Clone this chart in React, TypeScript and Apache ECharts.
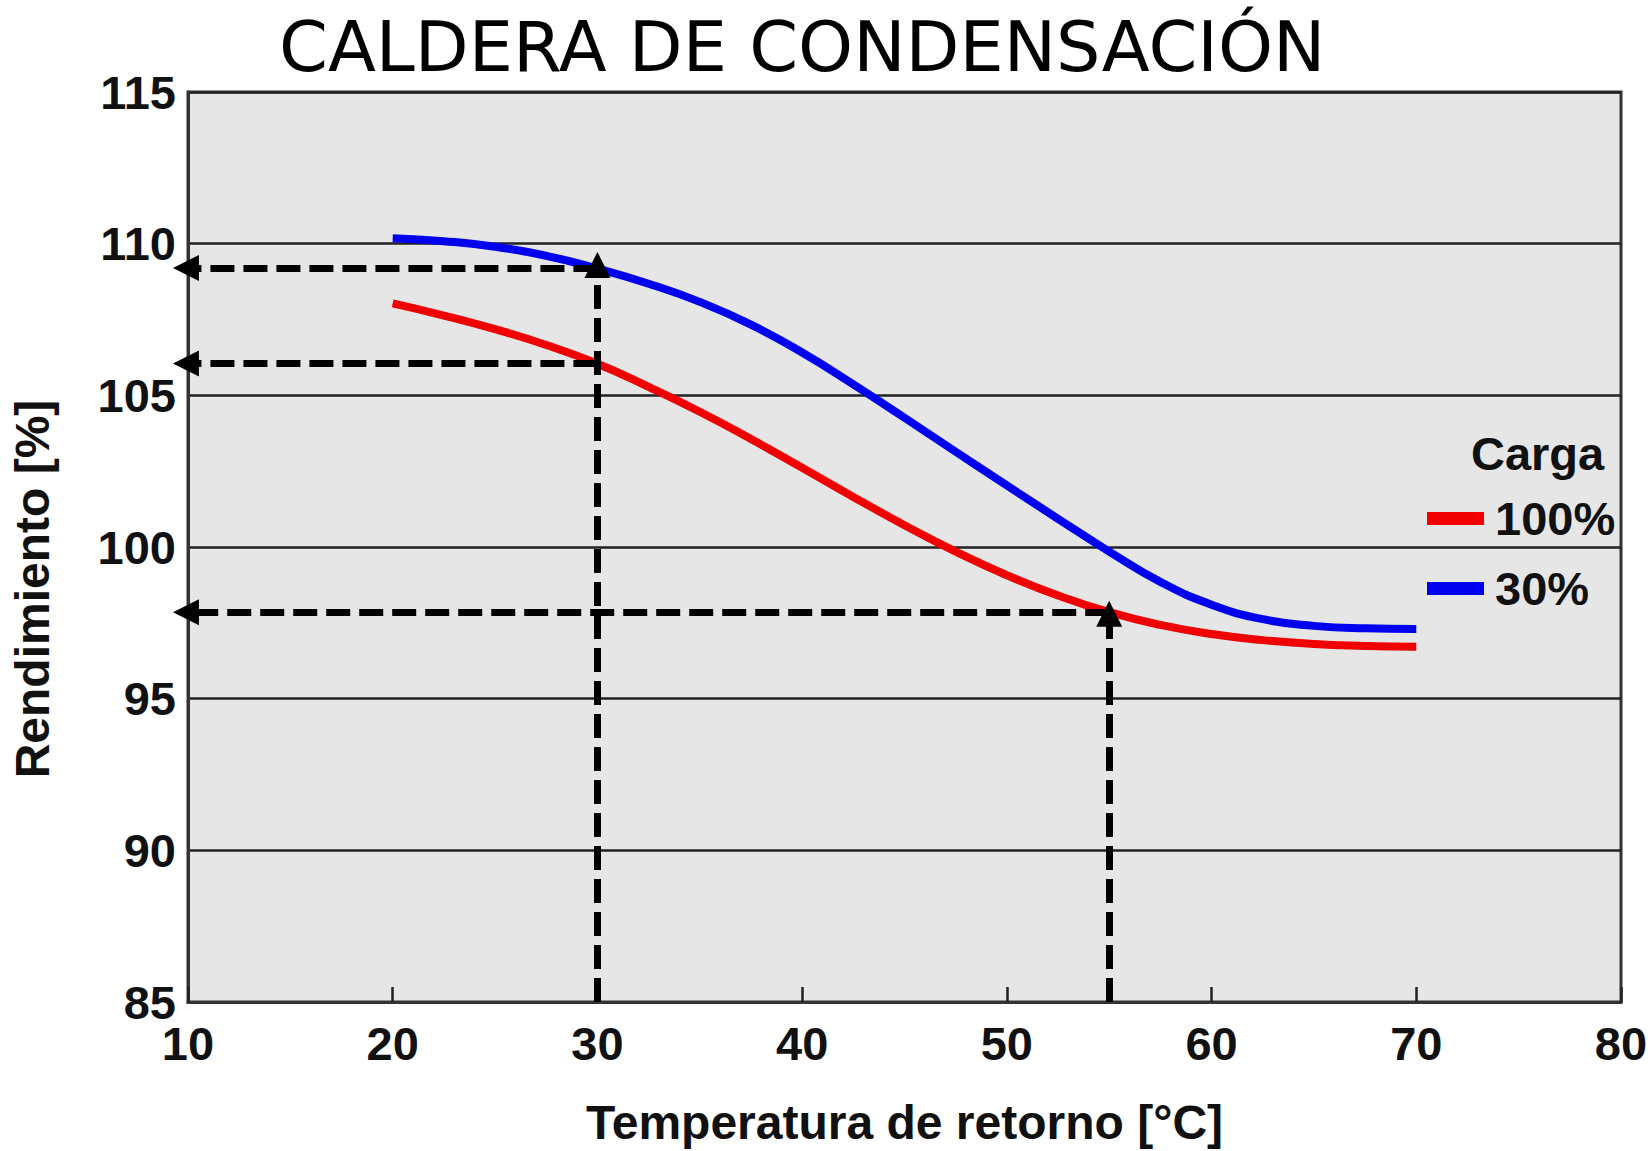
import React, { useEffect, useRef } from "react";
import * as echarts from "echarts";

// Chart text
const chartTitle = "CALDERA DE CONDENSACIÓN";
const xAxisName = "Temperatura de retorno [°C]";
const yAxisName = "Rendimiento [%]";
const legendTitle = "Carga";
const seriesNames = ["100%", "30%"];

// Axes
const xMin = 10;
const xMax = 80;
const xStep = 10;
const yMin = 85;
const yMax = 115;
const yStep = 5;

// Return temperature samples [°C]
const temps = [20, 22.5, 25, 27.5, 30, 32.5, 35, 37.5, 40, 42.5, 45, 47.5, 50, 52.5, 55, 57.5, 60, 62.5, 65, 67.5, 70];

// Efficiency at 100 % load [%]
const load100 = [108.03, 107.63, 107.18, 106.66, 106.04, 105.28, 104.46, 103.56, 102.61, 101.65, 100.72, 99.85, 99.07, 98.4, 97.85, 97.43, 97.13, 96.93, 96.8, 96.74, 96.71];

// Efficiency at 30 % load [%]
const load30 = [110.18, 110.08, 109.9, 109.6, 109.18, 108.68, 108.08, 107.33, 106.41, 105.36, 104.26, 103.14, 102.03, 100.93, 99.85, 98.85, 98.1, 97.62, 97.4, 97.32, 97.3];

// Dashed reading guides: [from, to] in data units (arrow at "to")
const guideSegments: number[][][] = [
  [[30, 85], [30, 109.3]],
  [[30, 109.2], [9.9, 109.2]],
  [[30, 106.05], [9.9, 106.05]],
  [[55, 85], [55, 97.8]],
  [[55, 97.85], [9.9, 97.85]],
];

const seriesColors = ["#f00000", "#0000f0"];

export default function App() {
  const ref = useRef<HTMLDivElement>(null);

  useEffect(() => {
    document.body.style.margin = "0";
    if (!ref.current) return;
    const chart = echarts.init(ref.current, null, { renderer: "svg" });
    const font = "Liberation Sans";
    const toPairs = (vals: number[]) => temps.map((t, i) => [t, vals[i]]);

    chart.setOption({
      animation: false,
      backgroundColor: "#ffffff",
      title: {
        text: chartTitle,
        left: 274,
        top: 7,
        textStyle: {
          fontFamily: "DejaVu Sans",
          fontWeight: "normal",
          fontSize: 70,
          color: "#000",
        },
      },
      grid: {
        left: 187,
        right: 31,
        top: 92,
        bottom: 149,
        show: true,
        backgroundColor: "#e6e6e6",
        borderColor: "#333",
        borderWidth: 3,
      },
      legend: {
        data: seriesNames,
        orient: "vertical",
        left: 1427,
        top: 495,
        itemWidth: 57,
        itemHeight: 13,
        itemGap: 23,
        icon: "rect",
        padding: 0,
        textStyle: {
          fontFamily: font,
          fontWeight: "bold",
          fontSize: 47,
          color: "#111",
          padding: [0, 0, 0, 6],
        },
      },
      graphic: [
        {
          type: "text",
          left: 1471,
          top: 430,
          style: {
            text: legendTitle,
            font: `bold 47px "${font}"`,
            fill: "#111",
          },
        },
      ],
      xAxis: {
        type: "value",
        min: xMin,
        max: xMax,
        interval: xStep,
        name: xAxisName,
        nameLocation: "middle",
        nameGap: 96,
        nameTextStyle: {
          fontFamily: font,
          fontWeight: "bold",
          fontSize: 48,
          color: "#111",
        },
        axisLine: { show: true, lineStyle: { color: "#333", width: 3 } },
        axisTick: { show: true, inside: true, length: 15, lineStyle: { color: "#222", width: 2.5 } },
        axisLabel: {
          margin: 18,
          fontFamily: font,
          fontWeight: "bold",
          fontSize: 47,
          color: "#111",
        },
        splitLine: { show: false },
      },
      yAxis: {
        type: "value",
        min: yMin,
        max: yMax,
        interval: yStep,
        name: yAxisName,
        nameLocation: "middle",
        nameRotate: 90,
        nameGap: 132,
        nameTextStyle: {
          fontFamily: font,
          fontWeight: "bold",
          fontSize: 48,
          color: "#111",
          padding: [0, 84, 0, 0],
        },
        axisLine: { show: true, lineStyle: { color: "#333", width: 3 } },
        axisTick: { show: false },
        axisLabel: {
          margin: 12,
          fontFamily: font,
          fontWeight: "bold",
          fontSize: 47,
          color: "#111",
        },
        splitLine: { show: true, lineStyle: { color: "#222", width: 2.5 } },
      },
      series: [
        {
          name: seriesNames[0],
          type: "line",
          data: toPairs(load100),
          smooth: 0.5,
          showSymbol: false,
          color: seriesColors[0],
          lineStyle: { color: seriesColors[0], width: 8 },
          z: 3,
        },
        {
          name: seriesNames[1],
          type: "line",
          data: toPairs(load30),
          smooth: 0.5,
          showSymbol: false,
          color: seriesColors[1],
          lineStyle: { color: seriesColors[1], width: 8 },
          z: 3,
        },
        {
          name: "guides",
          type: "lines",
          coordinateSystem: "cartesian2d",
          clip: false,
          symbol: ["none", "triangle"],
          symbolSize: 26,
          lineStyle: { color: "#000", width: 7, type: [24, 9], opacity: 1 },
          itemStyle: { color: "#000" },
          data: guideSegments.map((c) => ({ coords: c })),
          z: 5,
        },
      ],
    });

    return () => chart.dispose();
  }, []);

  return <div ref={ref} style={{ width: 1652, height: 1151 }} />;
}
